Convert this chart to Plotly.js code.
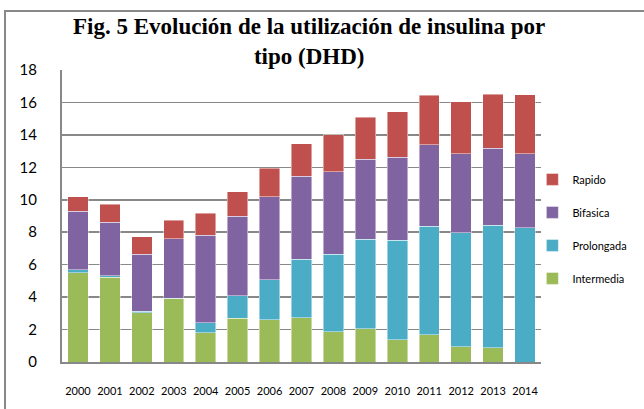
<!DOCTYPE html>
<html>
<head>
<meta charset="utf-8">
<script src="https://cdn.plot.ly/plotly-3.0.1.min.js"></script>
<style>
  html, body { margin: 0; padding: 0; background: #ffffff; }
  #wrap { position: relative; width: 644px; height: 409px; overflow: hidden; }
  #chart { position: absolute; left: 0; top: 0; width: 644px; height: 409px; }
  #frame { position: absolute; left: 4px; top: 10px; width: 700px; height: 500px;
           border-left: 2px solid #888888; border-top: 2px solid #888888; pointer-events: none; }
</style>
</head>
<body>
<div id="wrap">
  <div id="chart"></div>
  <div id="frame"></div>
</div>
<script>
const years = ['2000','2001','2002','2003','2004','2005','2006','2007','2008','2009','2010','2011','2012','2013','2014'];
const intermedia = [5.50, 5.23, 3.05, 3.89, 1.79, 2.70, 2.61, 2.74, 1.87, 2.04, 1.38, 1.69, 0.95, 0.88, 0.00];
const prolongada = [0.20, 0.08, 0.08, 0.04, 0.64, 1.39, 2.47, 3.60, 4.78, 5.53, 6.13, 6.68, 7.03, 7.56, 8.27];
const bifasica   = [3.60, 3.29, 3.50, 3.66, 5.37, 4.88, 5.11, 5.10, 5.08, 4.94, 5.10, 5.03, 4.86, 4.73, 4.57];
const rapido     = [0.90, 1.11, 1.09, 1.15, 1.36, 1.52, 1.74, 2.00, 2.28, 2.57, 2.82, 3.04, 3.21, 3.35, 3.64];
const yTicks = [0, 2, 4, 6, 8, 10, 12, 14, 16, 18];

const edge = { color: 'rgba(255,255,255,0.55)', width: 0.8 };
function mk(name, y, color, rank) {
  return { type: 'bar', name: name, x: years, y: y, legendgroup: name, legendrank: rank,
           marker: { color: color, line: edge }, hoverinfo: 'x+y+name' };
}
const data = [
  mk('Intermedia', intermedia, '#9BBB59', 4),
  mk('Prolongada', prolongada, '#4BACC6', 3),
  mk('Bifasica', bifasica, '#8064A2', 2),
  mk('Rapido', rapido, '#C0504D', 1)
];

const layout = {
  width: 644, height: 409,
  margin: { l: 62, r: 89, t: 70, b: 47 },
  paper_bgcolor: '#ffffff', plot_bgcolor: '#ffffff',
  barmode: 'stack', bargap: 0.36,
  title: {
    text: '<b>Fig. 5 Evolución de la utilización de insulina por<br>tipo (DHD)</b>',
    font: { family: 'Liberation Serif, Times New Roman, serif', size: 23, color: '#000000' },
    x: 0.516, xref: 'paper', xanchor: 'center',
    y: 0.917, yref: 'container', yanchor: 'top'
  },
  xaxis: {
    type: 'category', tickvals: years, ticktext: years,
    showline: true, linecolor: '#888888', linewidth: 2,
    ticks: '', ticklabelstandoff: 18,
    tickfont: { family: 'Lato, Open Sans, sans-serif', size: 11, color: '#000000' },
    showgrid: false
  },
  yaxis: {
    range: [0, 18], tickvals: yTicks, ticktext: yTicks.map(String),
    showline: true, linecolor: '#888888', linewidth: 2,
    showgrid: true, gridcolor: '#888888', gridwidth: 1.6,
    ticks: '', ticklabelstandoff: 20,
    tickfont: { family: 'Lato, Open Sans, sans-serif', size: 15, color: '#000000' },
    zeroline: false
  },
  legend: {
    x: 0.982, xanchor: 'left', y: 0.675, yanchor: 'top',
    traceorder: 'grouped', tracegroupgap: 14,
    font: { family: 'Lato, Open Sans, sans-serif', size: 11, color: '#000000' },
    bgcolor: 'rgba(0,0,0,0)'
  },
  showlegend: true
};

Plotly.newPlot('chart', data, layout, { displayModeBar: false, staticPlot: true });
</script>
</body>
</html>
